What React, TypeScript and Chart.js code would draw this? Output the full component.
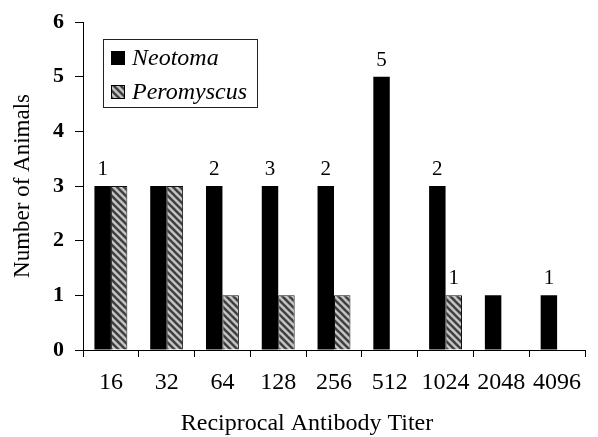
import React, { useEffect, useRef } from "react";
import { Chart, registerables } from "chart.js";

Chart.register(...registerables);

const categories = ["16", "32", "64", "128", "256", "512", "1024", "2048", "4096"];
const neotomaValues = [3, 3, 3, 3, 3, 5, 3, 1, 1];
const peromyscusValues: (number | null)[] = [3, 3, 1, 1, 1, null, 1, null, null];
const neotomaNotes = ["1", "", "2", "3", "2", "5", "2", "", "1"];
const peromyscusNotes = ["", "", "", "", "", "", "1", "", ""];
const seriesNames = ["Neotoma", "Peromyscus"];
const yTitle = "Number of Animals";
const xTitle = "Reciprocal Antibody Titer";

const SERIF = "'Liberation Serif', 'Times New Roman', serif";

function makePattern(): CanvasPattern | string {
  const s = 7;
  const c = document.createElement("canvas");
  c.width = s;
  c.height = s;
  const g = c.getContext("2d");
  if (!g) return "#999";
  g.fillStyle = "#a6a6a6";
  g.fillRect(0, 0, s, s);
  g.lineCap = "square";
  for (const k of [-s, 0, s]) {
    g.strokeStyle = "#3a3a3a";
    g.lineWidth = 2;
    g.beginPath();
    g.moveTo(k, 0);
    g.lineTo(k + s, s);
    g.stroke();
    g.strokeStyle = "#e6e6e6";
    g.lineWidth = 1;
    g.beginPath();
    g.moveTo(k + s / 2, 0);
    g.lineTo(k + s / 2 + s, s);
    g.stroke();
  }
  const p = g.createPattern(c, "repeat");
  return p || "#999";
}

export default function App() {
  const ref = useRef<HTMLCanvasElement | null>(null);

  useEffect(() => {
    document.body.style.margin = "0";
    const canvas = ref.current;
    if (!canvas) return;
    const pattern = makePattern();

    const overlay = {
      id: "overlay",
      afterDatasetsDraw(chart: any) {
        const ctx = chart.ctx as CanvasRenderingContext2D;
        ctx.save();
        // value notes
        ctx.fillStyle = "#000";
        ctx.font = `21px ${SERIF}`;
        ctx.textAlign = "center";
        ctx.textBaseline = "alphabetic";
        const notes = [neotomaNotes, peromyscusNotes];
        notes.forEach((arr, di) => {
          const meta = chart.getDatasetMeta(di);
          arr.forEach((t, i) => {
            if (!t) return;
            const el = meta.data[i];
            if (!el) return;
            ctx.fillText(t, el.x, el.y - 11);
          });
        });
        // legend
        const bx = 103, by = 39, bw = 154, bh = 68;
        ctx.strokeStyle = "#222";
        ctx.lineWidth = 1;
        ctx.strokeRect(bx + 0.5, by + 0.5, bw, bh);
        const rows = [58, 92];
        chart.data.datasets.forEach((ds: any, i: number) => {
          const cy = rows[i];
          ctx.fillStyle = ds.backgroundColor;
          ctx.fillRect(111, cy - 7, 14, 14);
          ctx.strokeStyle = "#000";
          ctx.strokeRect(111.5, cy - 6.5, 13, 13);
          ctx.fillStyle = "#000";
          ctx.font = `italic 24px ${SERIF}`;
          ctx.textAlign = "left";
          ctx.textBaseline = "middle";
          ctx.fillText(ds.label, 132, cy + 1);
        });
        // x title
        ctx.font = `24px ${SERIF}`;
        ctx.textAlign = "center";
        ctx.textBaseline = "middle";
        ctx.fillStyle = "#000";
        ctx.fillText(xTitle, 307, 424);
        ctx.restore();
      },
    };

    const chart = new Chart(canvas, {
      type: "bar",
      data: {
        labels: categories,
        datasets: [
          {
            label: seriesNames[0],
            data: neotomaValues,
            backgroundColor: "#000",
            borderColor: "#000",
            borderWidth: 0,
            barPercentage: 1,
            categoryPercentage: 0.59,
          },
          {
            label: seriesNames[1],
            data: peromyscusValues,
            backgroundColor: pattern as any,
            borderColor: "#111",
            borderWidth: 1,
            barPercentage: 1,
            categoryPercentage: 0.59,
          },
        ],
      },
      options: {
        responsive: false,
        animation: false,
        devicePixelRatio: 1,
        layout: { padding: { left: 9, right: 13, top: 12, bottom: 0 } },
        plugins: {
          legend: { display: false },
          tooltip: { enabled: false },
        },
        scales: {
          x: {
            grid: {
              offset: true,
              drawOnChartArea: false,
              drawTicks: true,
              tickLength: 7,
              color: "#000",
            },
            border: { display: true, color: "#000", width: 1 },
            ticks: {
              color: "#000",
              font: { family: SERIF, size: 24 },
              padding: 11,
              maxRotation: 0,
              autoSkip: false,
            },
            afterFit: (s: any) => {
              s.height = 87;
            },
          },
          y: {
            min: 0,
            max: 6,
            grid: {
              drawOnChartArea: false,
              drawTicks: true,
              tickLength: 8,
              color: "#000",
            },
            border: { display: true, color: "#000", width: 1 },
            ticks: {
              stepSize: 1,
              color: "#000",
              font: { family: SERIF, size: 22, weight: "bold", lineHeight: 1 },
              padding: 11,
            },
            title: {
              display: true,
              text: yTitle,
              color: "#000",
              font: { family: SERIF, size: 23 },
              padding: 0,
            },
            afterFit: (s: any) => {
              s.width = 74;
            },
          },
        },
      },
      plugins: [overlay],
    });

    return () => chart.destroy();
  }, []);

  return (
    <div style={{ width: 598, height: 437 }}>
      <canvas ref={ref} width={598} height={437} style={{ display: "block" }} />
    </div>
  );
}
